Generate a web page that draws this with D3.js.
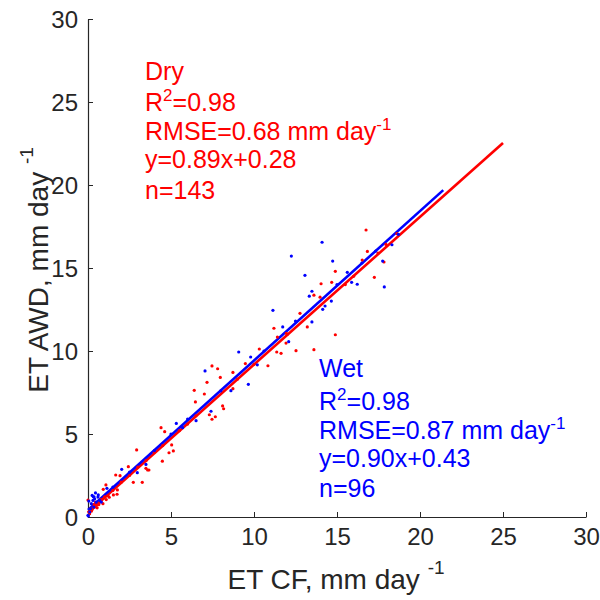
<!DOCTYPE html>
<html>
<head>
<meta charset="utf-8">
<script src="https://cdn.jsdelivr.net/npm/d3@7"></script>
<style>
  body { margin: 0; background: #fff; }
  svg text { font-family: "Liberation Sans", Arial, sans-serif; }
</style>
</head>
<body>
<div id="chart"></div>
<script>
// axis ticks
var ticks = [0, 5, 10, 15, 20, 25, 30];

// Dry season points (ET CF, ET AWD)
var dryX = [0.0, 0.05, 0.1, 0.15, 0.2, 0.25, 0.3, 0.35, 0.4, 0.45, 0.5, 0.55, 0.6, 0.65, 0.7, 0.75, 0.8, 0.9, 0.9, 1.0,
  1.1, 1.2, 0.92, 1.02, 1.08, 1.28, 1.53, 1.75, 1.77, 1.67, 1.93, 2.43, 2.73, 3.27, 2.93, 3.49, 3.59, 3.67, 4.48, 4.88,
  5.14, 4.40, 4.62, 5.04, 1.5, 2.0, 2.5, 3.0, 3.5, 4.0, 4.5, 5.5, 6.0, 6.5, 6.4, 6.47, 7.01, 7.17, 7.31, 7.47,
  7.47, 7.67, 7.81, 7.97, 8.11, 8.17, 8.73, 8.73, 9.48, 10.32, 10.84, 11.2, 11.37, 11.41, 11.63, 11.93, 11.95, 12.53, 12.77, 13.21,
  13.61, 13.61, 13.98, 14.04, 14.68, 14.9, 14.9, 16.52, 16.75, 16.83, 17.25, 17.47, 17.83, 17.95, 18.61, 9.0, 10.0, 12.0, 15.5, 16.0];
var dryY = [1.02, 0.3, 0.2, 0.5, 0.35, 0.45, 0.55, 0.75, 0.6, 0.9, 0.7, 0.55, 0.8, 0.75, 0.9, 1.05, 1.0, 1.1, 0.8, 1.2,
  1.05, 1.3, 1.67, 1.22, 1.93, 1.19, 1.33, 1.37, 1.63, 2.53, 2.49, 3.03, 2.09, 2.09, 4.04, 2.93, 2.83, 2.83, 3.36, 3.87,
  3.98, 5.38, 5.14, 4.34, 1.6, 2.1, 2.5, 3.0, 3.4, 3.9, 4.3, 5.2, 5.6, 6.1, 7.63, 6.93, 7.41, 8.11, 6.16, 9.10,
  5.89, 6.04, 8.93, 8.41, 6.69, 6.52, 8.71, 7.73, 9.24, 10.12, 9.11, 11.37, 9.94, 10.84, 9.86, 10.48, 11.07, 10.02, 12.27, 11.45,
  13.36, 10.08, 13.24, 14.05, 14.14, 14.8, 10.98, 15.48, 17.29, 16.0, 14.44, 15.9, 15.36, 16.42, 17.07, 8.3, 9.2, 11.0, 14.0, 14.5];

// Wet season points
var wetX = [0.02, 0.05, 0.1, 0.15, 0.2, 0.25, 0.3, 0.35, 0.36, 0.4, 0.45, 0.5, 0.6, 0.62, 0.7, 0.8, 0.0, 0.32,
  1.14, 2.03, 2.97, 3.49, 5.32, 5.7, 6.51, 7.05, 7.41, 8.61, 9.08, 9.66, 9.8, 10.2, 11.14, 11.73, 12.09, 12.25,
  13.07, 13.33, 13.49, 13.49, 14.1, 14.14, 14.28, 14.66, 14.74, 15.62, 15.88, 16.22, 17.33, 17.75, 17.85, 18.31, 18.7,
  1.5, 2.5, 4.0, 5.0, 6.0, 8.0, 10.6, 12.5, 15.0, 16.5];
var wetY = [0.06, 0.96, 0.3, 0.5, 0.8, 1.3, 1.0, 0.6, 1.22, 1.1, 1.45, 0.9, 1.2, 1.33, 1.0, 0.9, 0.1, 1.22,
  1.73, 2.87, 2.67, 3.17, 5.64, 5.38, 5.80, 8.80, 6.37, 7.61, 9.94, 7.99, 9.64, 9.17, 12.45, 11.45, 10.56, 15.72,
  14.56, 13.3, 13.6, 11.75, 16.55, 12.51, 12.71, 13.01, 15.42, 14.74, 14.14, 14.02, 16.02, 15.42, 13.86, 16.4, 17.03,
  1.8, 2.7, 4.0, 5.0, 5.9, 7.6, 10.0, 11.8, 14.0, 15.3];

// fitted lines: [slope, intercept, x end]
var dryFit = [0.89, 0.28, 25.0];
var wetFit = [0.90, 0.43, 21.4];

var dryText = ["Dry", "R2=0.98", "RMSE=0.68 mm day-1", "y=0.89x+0.28", "n=143"];
var wetText = ["Wet", "R2=0.98", "RMSE=0.87 mm day-1", "y=0.90x+0.43", "n=96"];

var width = 600, height = 600;
var margin = {left: 88, right: 14, top: 19, bottom: 83};

var svg = d3.select("#chart").append("svg")
  .attr("width", width)
  .attr("height", height);

var x = d3.scaleLinear().domain([0, 30]).range([margin.left, width - margin.right]);
var y = d3.scaleLinear().domain([0, 30]).range([height - margin.bottom, margin.top]);

var axisColor = "#262626";

// axes, ticks pointing inward like matlab
var gx = svg.append("g")
  .attr("transform", "translate(0," + y(0) + ")")
  .call(d3.axisBottom(x).tickValues(ticks).tickSizeInner(-5).tickSizeOuter(0).tickPadding(11));
var gy = svg.append("g")
  .attr("transform", "translate(" + x(0) + ",0)")
  .call(d3.axisLeft(y).tickValues(ticks).tickSizeInner(-5).tickSizeOuter(0).tickPadding(10));

[gx, gy].forEach(function(g) {
  g.select(".domain").attr("stroke", axisColor).attr("stroke-width", 1.2);
  g.selectAll(".tick line").attr("stroke", axisColor).attr("stroke-width", 1);
  g.selectAll(".tick text")
    .attr("fill", axisColor)
    .style("font-size", "24px")
    .style("font-family", "'Liberation Sans', Arial, sans-serif");
});
gx.selectAll(".tick text").attr("dy", "0.71em");
gy.selectAll(".tick text").attr("dy", "0.36em");

// fit lines
function drawFit(fit, color) {
  svg.append("line")
    .attr("x1", x(0)).attr("y1", y(fit[1]))
    .attr("x2", x(fit[2])).attr("y2", y(fit[0] * fit[2] + fit[1]))
    .attr("stroke", color)
    .attr("stroke-width", 2.6);
}
drawFit(dryFit, "#ff0000");
drawFit(wetFit, "#0000ff");

// scatter points
function drawPoints(xs, ys, color) {
  svg.append("g").selectAll("circle")
    .data(xs)
    .enter()
    .append("circle")
    .attr("cx", function(d) { return x(d); })
    .attr("cy", function(d, i) { return y(ys[i]); })
    .attr("r", 1.6)
    .attr("fill", color);
}
drawPoints(dryX, dryY, "#ff0000");
drawPoints(wetX, wetY, "#0000ff");

// annotation blocks, superscripts done with tspans
function addLine(parent, str, px, py, color) {
  var t = parent.append("text")
    .attr("x", px).attr("y", py)
    .attr("fill", color)
    .style("font-size", "25px");
  if (str.indexOf("R2") === 0) {
    t.append("tspan").text("R");
    t.append("tspan").attr("dy", -10).style("font-size", "17px").text("2");
    t.append("tspan").attr("dy", 10).text(str.slice(2));
  } else if (str.slice(-2) === "-1") {
    t.append("tspan").text(str.slice(0, -2));
    t.append("tspan").attr("dy", -10).style("font-size", "17px").text("-1");
  } else {
    t.text(str);
  }
  return t;
}

var dryBase = [80, 111, 140, 168, 199];
var wetBase = [377, 410, 439, 467, 497];
var gText = svg.append("g");
dryText.forEach(function(s, i) { addLine(gText, s, 145, dryBase[i], "#ff0000"); });
wetText.forEach(function(s, i) { addLine(gText, s, 319, wetBase[i], "#0000ff"); });

// axis titles
var xl = svg.append("text")
  .attr("x", 336).attr("y", 589)
  .attr("text-anchor", "middle")
  .attr("fill", axisColor)
  .style("font-size", "28px");
xl.append("tspan").text("ET CF, mm day ");
xl.append("tspan").attr("dy", -15).style("font-size", "19px").text("-1");

var yl = svg.append("text")
  .attr("transform", "translate(48,270) rotate(-90)")
  .attr("text-anchor", "middle")
  .attr("fill", axisColor)
  .style("font-size", "28px");
yl.append("tspan").text("ET AWD, mm day ");
yl.append("tspan").attr("dy", -15).style("font-size", "19px").text("-1");
</script>
</body>
</html>
